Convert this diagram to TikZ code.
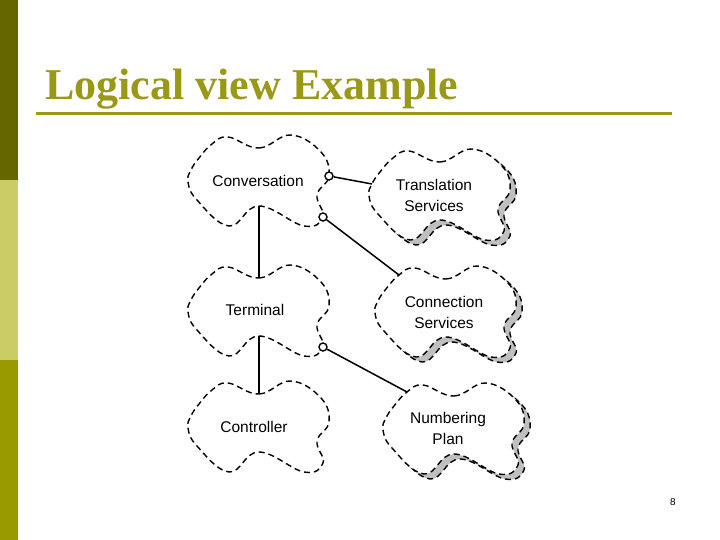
\documentclass[tikz,border=0pt]{standalone}
\usepackage{fontspec}
\setmainfont{Liberation Serif}
\newfontfamily\arialfont{Liberation Sans}
\usetikzlibrary{calc}

\definecolor{bardark}{HTML}{666600}
\definecolor{barlight}{HTML}{CCCC66}
\definecolor{barolive}{HTML}{999900}
\definecolor{titleolive}{HTML}{999917}

\tikzset{
  cloudline/.style={line width=1.4pt, dash pattern=on 6pt off 4pt},
  cattext/.style={font=\arialfont\fontsize{15.5}{21}\selectfont, align=center, inner sep=0pt},
  ball/.style={circle, draw, fill=white, line width=1.4pt, minimum size=8pt, inner sep=0pt},
  link/.style={line width=1.5pt},
  catcloud/.pic={
    \draw[cloudline, fill=white] plot[smooth cycle, tension=.7] coordinates {
      (-31,-43) (0,-32) (32,-45) (62,-28) (70,-4) (58,15) (64,37) (45,46)
      (0,26) (-30,46) (-62,20) (-71,2) (-68,-10) (-60,-22) (-47,-36)};
    \coordinate (-n) at (0,-32); \coordinate (-s) at (0,26);
    \coordinate (-e) at (70,-4); \coordinate (-se) at (64,37);
    \coordinate (-w) at (-68,-10); \coordinate (-nw) at (-47,-36);
  },
  shadecloud/.pic={
    \draw[cloudline, fill=gray!50, shift={(6,5)}] plot[smooth cycle, tension=.7] coordinates {
      (-31,-43) (0,-32) (32,-45) (62,-28) (70,-4) (58,15) (64,37) (45,46)
      (0,26) (-30,46) (-62,20) (-71,2) (-68,-10) (-60,-22) (-47,-36)};
    \pic {catcloud};
  }
}

\begin{document}
\begin{tikzpicture}[x=1pt,y=-1pt]
\useasboundingbox (0,0) rectangle (720,540);
% side bar
\fill[bardark] (0,0) rectangle (18,180);
\fill[barlight] (0,180) rectangle (18,360);
\fill[barolive] (0,360) rectangle (18,540);
% title
\node[anchor=base west, inner sep=0pt, text=titleolive, font=\fontsize{44}{48}\selectfont\bfseries] (title) at (45,100) {Logical view Example};
\draw[titleolive, line width=3pt] (36,114) -- (672,114);
% categories
\pic (conv) at (259,180) {catcloud};
\pic (term) at (259,310) {catcloud};
\pic (ctrl) at (259,426) {catcloud};
\pic (trans) at (440,194) {shadecloud};
\pic (conn) at (446,311) {shadecloud};
\pic (numb) at (454,428) {shadecloud};
\node[cattext] (convtxt) at (258,181) {Conversation};
\node[cattext] (termtxt) at (255,310) {Terminal};
\node[cattext] (ctrltxt) at (254,427) {Controller};
\node[cattext] (transtxt) at (434,195) {Translation\\Services};
\node[cattext] (conntxt) at (444,312) {Connection\\Services};
\node[cattext] (numbtxt) at (448,428) {Numbering\\Plan};
% relationships
\draw[link] (conv-s) -- (term-n);
\draw[link] (term-s) -- (ctrl-n);
\node[ball] (b1) at (conv-e) {};
\node[ball] (b2) at (conv-se) {};
\node[ball] (b3) at (term-se) {};
\draw[link] (b1) -- (trans-w);
\draw[link] (b2) -- (conn-nw);
\draw[link] (b3) -- (numb-nw);
% page number
\node[font=\arialfont\fontsize{10}{12}\selectfont, inner sep=0pt] (page) at (673,502) {8};
\end{tikzpicture}
\end{document}
